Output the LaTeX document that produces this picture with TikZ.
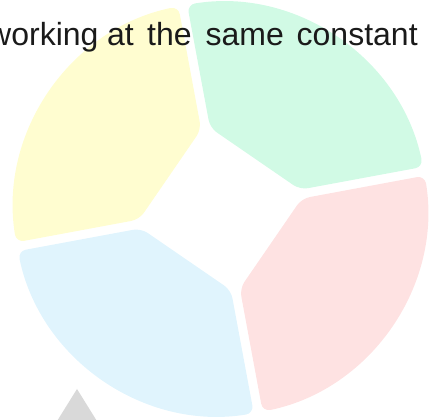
\documentclass[tikz,border=0pt]{standalone}
\usepackage{fontspec}
\setmainfont{Liberation Sans}
\definecolor{secY}{HTML}{FFFDD0}
\definecolor{secG}{HTML}{D1FAE5}
\definecolor{secR}{HTML}{FEE2E2}
\definecolor{secB}{HTML}{E0F4FD}
\definecolor{triG}{HTML}{D9D9D9}
\definecolor{txt}{HTML}{1A1A1A}
\tikzset{
  sector/.style={rounded corners=8pt},
  word/.style={anchor=base west, inner sep=0pt, text=txt, font=\fontsize{32}{38}\selectfont}
}
\newcommand{\sectorpath}{(61,-54.6) -- (149.5,-143.1) arc[start angle=-43.75, end angle=43.75, radius=207] -- (61,54.6) -- cycle}
\begin{document}
\begin{tikzpicture}[x=1pt,y=1pt]
\useasboundingbox (0,0) rectangle (429,420);
\clip (0,0) rectangle (429,420);
\begin{scope}[shift={(220.5,211)}]
  \fill[secY, sector, rotate=145.5] \sectorpath;
  \fill[secG, sector, rotate=55.5] \sectorpath;
  \fill[secR, sector, rotate=-34.5] \sectorpath;
  \fill[secB, sector, rotate=235.5] \sectorpath;
\end{scope}
\fill[triG] (77,31) -- (100,-6) -- (54,-6) -- cycle;
\node[word] (w1) at (-12,374) {working};
\node[word] (w2) at (107,374) {at};
\node[word] (w3) at (147,374) {the};
\node[word] (w4) at (205.5,374) {same};
\node[word] (w5) at (296.5,374) {constant};
\end{tikzpicture}
\end{document}
